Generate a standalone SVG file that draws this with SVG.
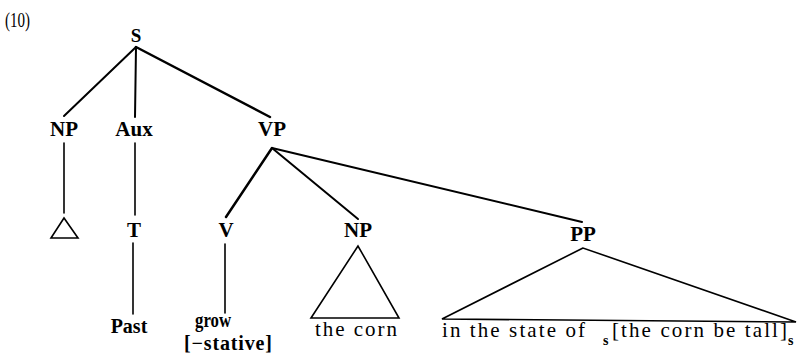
<svg xmlns="http://www.w3.org/2000/svg" width="797" height="362" viewBox="0 0 797 362">
<style>
.lbl{font-family:"Liberation Serif",serif;font-weight:bold;font-size:21px;text-anchor:middle;fill:#000}
.txt{font-family:"Liberation Serif",serif;font-size:21px;fill:#000}
.sub{font-family:"Liberation Serif",serif;font-size:14px;font-weight:bold;fill:#000}
.e{stroke:#000;stroke-width:2;fill:none;stroke-linecap:round}
.tri{stroke:#000;stroke-width:1.6;fill:none;stroke-linejoin:miter}
</style>
<rect width="797" height="362" fill="#fff"/>
<text x="5" y="27" class="txt" style="font-size:20px" textLength="25" lengthAdjust="spacingAndGlyphs">(10)</text>
<g id="connectors">
<line class="e" x1="136" y1="47" x2="64" y2="116"/>
<line class="e" x1="136" y1="47" x2="135" y2="117"/>
<line class="e" x1="136" y1="47" x2="270" y2="117" style="stroke-width:2.5"/>
<line class="e" x1="64" y1="143" x2="64" y2="213" style="stroke-width:1.6"/>
<line class="e" x1="135" y1="143" x2="135" y2="215" style="stroke-width:1.6"/>
<line class="e" x1="133" y1="243" x2="133" y2="314" style="stroke-width:1.6"/>
<line class="e" x1="272" y1="148" x2="226" y2="217" style="stroke-width:2.5"/>
<line class="e" x1="272" y1="148" x2="358" y2="219"/>
<line class="e" x1="272" y1="148" x2="582" y2="222"/>
<line class="e" x1="225" y1="244" x2="225" y2="313" style="stroke-width:1.6"/>
</g>
<g id="S"><text class="lbl" x="136" y="42" style="font-size:19px">S</text></g>
<g id="NP1"><text class="lbl" x="64" y="136">NP</text>
<polygon class="tri" points="64,218 51,238 78,238"/></g>
<g id="Aux"><text class="lbl" x="134" y="136">Aux</text></g>
<g id="VP"><text class="lbl" x="272" y="136">VP</text></g>
<g id="T"><text class="lbl" x="134" y="237">T</text></g>
<g id="Past"><text class="lbl" x="129" y="333" style="font-size:20px">Past</text></g>
<g id="grow_node"><text class="lbl" x="213" y="327" style="font-size:20px" textLength="36" lengthAdjust="spacingAndGlyphs">grow</text>
<text class="lbl" x="228" y="350" style="font-size:20px" textLength="88" lengthAdjust="spacing">[−stative]</text></g>
<g id="V"><text class="lbl" x="226" y="237">V</text></g>
<g id="NP2"><text class="lbl" x="358" y="237">NP</text>
<polygon class="tri" points="358,246 311,318 399,318"/>
<text class="txt" x="315" y="336" textLength="82" lengthAdjust="spacing">the corn</text></g>
<g id="PP"><text class="lbl" x="583" y="241">PP</text>
<polygon class="tri" points="583,248 442,319 796,322"/>
<text class="txt" x="442" y="337" textLength="143" lengthAdjust="spacing">in the state of</text>
<text class="sub" x="603" y="345">s</text>
<text class="txt" x="612" y="337" textLength="175" lengthAdjust="spacing">[the corn be tall]</text>
<text class="sub" x="788" y="345">s</text></g>
</svg>
